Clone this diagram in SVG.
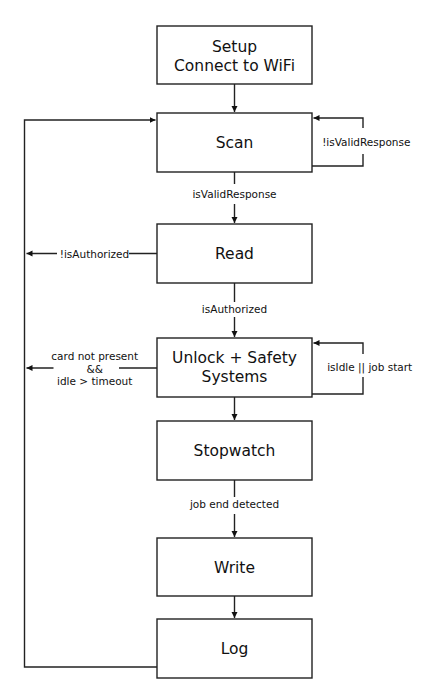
<svg xmlns="http://www.w3.org/2000/svg" width="430" height="698" viewBox="0 0 430 698">
<style>
.box{fill:#fff;stroke:#222;stroke-width:1.4}
.nt{font-family:"DejaVu Sans",Verdana,sans-serif;font-size:15.5px;fill:#111;text-anchor:middle}
.lt{font-family:"DejaVu Sans",Verdana,sans-serif;font-size:10.5px;fill:#111;text-anchor:middle;dominant-baseline:central}
.ln{fill:none;stroke:#222;stroke-width:1.4}
.bg{fill:#fff}
</style>
<defs>
<marker id="ah" markerWidth="8" markerHeight="8" refX="6" refY="3" orient="auto" markerUnits="userSpaceOnUse">
<path d="M0,0 L6,3 L0,6 Z" fill="#111"/>
</marker>
</defs>
<rect width="430" height="698" fill="#fff"/>
<g id="connectors">
<line class="ln" x1="234.5" y1="84" x2="234.5" y2="112" marker-end="url(#ah)"/>
<path class="ln" d="M312,166 H363 V118 H313.5" marker-end="url(#ah)"/>
<line class="ln" x1="234.5" y1="172" x2="234.5" y2="223" marker-end="url(#ah)"/>
<path class="ln" d="M157,253.5 H26.5" marker-end="url(#ah)"/>
<line class="ln" x1="234.5" y1="283" x2="234.5" y2="337" marker-end="url(#ah)"/>
<path class="ln" d="M312,394 H363 V343 H313.5" marker-end="url(#ah)"/>
<path class="ln" d="M157,368 H26.5" marker-end="url(#ah)"/>
<line class="ln" x1="234.5" y1="397" x2="234.5" y2="420" marker-end="url(#ah)"/>
<line class="ln" x1="234.5" y1="480" x2="234.5" y2="537" marker-end="url(#ah)"/>
<line class="ln" x1="234.5" y1="596" x2="234.5" y2="618" marker-end="url(#ah)"/>
<path class="ln" d="M157,667 H24.5 V120 H155.5" marker-end="url(#ah)"/>
<rect class="bg" x="324" y="128" width="84" height="26"/>
<text class="lt" x="366.3" y="142">!isValidResponse</text>
<rect class="bg" x="193" y="184" width="83" height="20"/>
<text class="lt" x="234.5" y="194">isValidResponse</text>
<rect class="bg" x="57" y="246" width="72" height="15"/>
<text class="lt" x="94.5" y="254">!isAuthorized</text>
<rect class="bg" x="201" y="302" width="67" height="15"/>
<text class="lt" x="234.5" y="309">isAuthorized</text>
<rect class="bg" x="325" y="354" width="90" height="23"/>
<text class="lt" x="369.7" y="367">isIdle || job start</text>
<rect class="bg" x="53.5" y="362" width="65.5" height="12"/>
<text class="lt" x="94.7" y="356">card not present</text>
<text class="lt" x="94.7" y="368.5">&amp;&amp;</text>
<text class="lt" x="94.7" y="381">idle &gt; timeout</text>
<rect class="bg" x="191" y="497" width="88" height="17"/>
<text class="lt" x="234.5" y="504">job end detected</text>
</g>
<g id="setup"><rect class="box" x="157" y="26" width="155" height="58"/><text class="nt" x="234.5" y="52">Setup</text><text class="nt" x="234.5" y="71">Connect to WiFi</text></g>
<g id="scan"><rect class="box" x="157" y="113" width="155" height="59"/><text class="nt" x="234.5" y="148">Scan</text></g>
<g id="read"><rect class="box" x="157" y="224" width="155" height="59"/><text class="nt" x="234.5" y="259">Read</text></g>
<g id="unlock"><rect class="box" x="157" y="338" width="155" height="59"/><text class="nt" x="234.5" y="363">Unlock + Safety</text><text class="nt" x="234.5" y="382">Systems</text></g>
<g id="stopwatch"><rect class="box" x="157" y="421" width="155" height="59"/><text class="nt" x="234.5" y="456">Stopwatch</text></g>
<g id="write"><rect class="box" x="157" y="538" width="155" height="58"/><text class="nt" x="234.5" y="573">Write</text></g>
<g id="log"><rect class="box" x="157" y="619" width="155" height="59"/><text class="nt" x="234.5" y="654">Log</text></g>
</svg>
